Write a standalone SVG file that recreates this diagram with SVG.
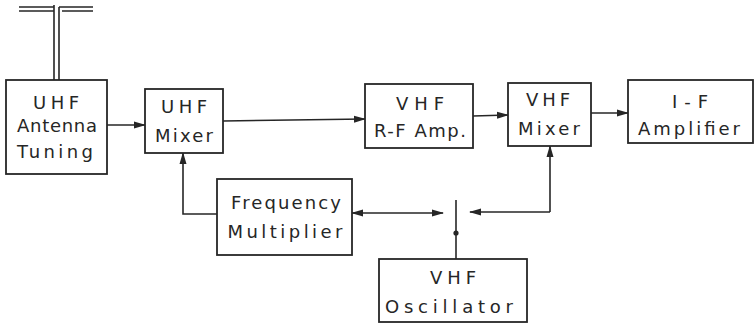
<svg xmlns="http://www.w3.org/2000/svg" width="755" height="324" viewBox="0 0 755 324">
<defs>
<marker id="ah" markerWidth="12" markerHeight="8" refX="11" refY="4" orient="auto-start-reverse" markerUnits="userSpaceOnUse">
<path d="M0,0.5 L12,4 L0,7.5 Z" fill="#262626"/>
</marker>
<style>
.box{fill:#fff;stroke:#262626;stroke-width:1.8}
.ln{fill:none;stroke:#262626;stroke-width:1.6}
text{font-family:"DejaVu Sans","Liberation Sans",sans-serif;font-size:18px;fill:#262626;text-anchor:middle}
</style>
</defs>
<g id="connectors">
<path class="ln" d="M19,7 H54 M19,11 H54 M54,5 V80 M59,7 V80 M59,7 H93 M62,11 H93"/>
<line class="ln" x1="107" y1="125" x2="145" y2="125" marker-end="url(#ah)"/>
<line class="ln" x1="223" y1="121" x2="365" y2="119" marker-end="url(#ah)"/>
<line class="ln" x1="473" y1="116" x2="508" y2="115" marker-end="url(#ah)"/>
<line class="ln" x1="591" y1="113" x2="628" y2="113" marker-end="url(#ah)"/>
<path class="ln" d="M217,214 H183 V153" marker-end="url(#ah)"/>
<path class="ln" d="M550,212 V146" marker-end="url(#ah)"/>
<path class="ln" d="M550,212 H470" marker-end="url(#ah)"/>
<line class="ln" x1="352" y1="213" x2="443" y2="213" marker-start="url(#ah)" marker-end="url(#ah)"/>
<line class="ln" x1="456" y1="200" x2="456" y2="259"/>
<circle cx="456" cy="233" r="2.6" fill="#262626"/>
</g>
<g id="uhf-antenna-tuning">
<rect class="box" x="6" y="80" width="101" height="94"/>
<text x="56" y="109" textLength="46" lengthAdjust="spacing">UHF</text>
<text x="57" y="132" textLength="80" lengthAdjust="spacing">Antenna</text>
<text x="55" y="158" textLength="76" lengthAdjust="spacing">Tuning</text>
</g>
<g id="uhf-mixer">
<rect class="box" x="145" y="89" width="78" height="64"/>
<text x="184" y="113" textLength="46" lengthAdjust="spacing">UHF</text>
<text x="184" y="142" textLength="58" lengthAdjust="spacing">Mixer</text>
</g>
<g id="vhf-rf-amp">
<rect class="box" x="365" y="84" width="108" height="64"/>
<text x="420" y="110" textLength="48" lengthAdjust="spacing">VHF</text>
<text x="420" y="137" textLength="92" lengthAdjust="spacing">R-F Amp.</text>
</g>
<g id="vhf-mixer">
<rect class="box" x="508" y="83" width="83" height="63"/>
<text x="548" y="106" textLength="44" lengthAdjust="spacing">VHF</text>
<text x="549" y="135" textLength="62" lengthAdjust="spacing">Mixer</text>
</g>
<g id="if-amplifier">
<rect class="box" x="628" y="80" width="125" height="63"/>
<text x="690" y="108" textLength="36" lengthAdjust="spacing">I-F</text>
<text x="689" y="135" textLength="102" lengthAdjust="spacing">Amplifier</text>
</g>
<g id="frequency-multiplier">
<rect class="box" x="217" y="179" width="135" height="76"/>
<text x="286" y="209" textLength="110" lengthAdjust="spacing">Frequency</text>
<text x="285" y="238" textLength="115" lengthAdjust="spacing">Multiplier</text>
</g>
<g id="vhf-oscillator">
<rect class="box" x="379" y="259" width="148" height="63"/>
<text x="453" y="284" textLength="46" lengthAdjust="spacing">VHF</text>
<text x="449" y="313" textLength="128" lengthAdjust="spacing">Oscillator</text>
</g>
</svg>
